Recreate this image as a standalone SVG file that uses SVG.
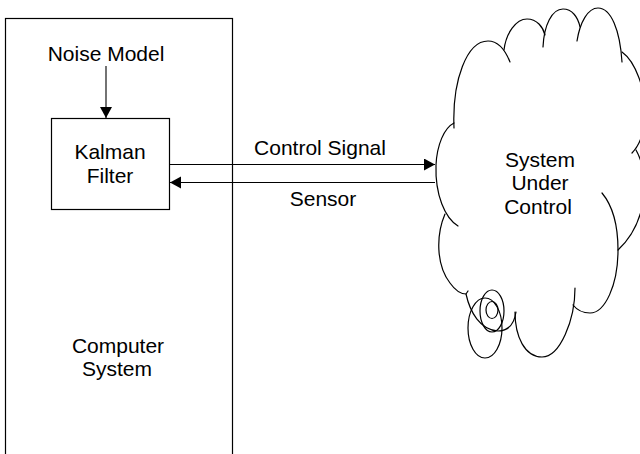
<svg xmlns="http://www.w3.org/2000/svg" width="640" height="454" viewBox="0 0 640 454">
<style>
.box{fill:#fff;stroke:#000;stroke-width:1.2}
.ln{fill:none;stroke:#000;stroke-width:1.1}
.cl{fill:none;stroke:#000;stroke-width:1.2;stroke-linecap:round}
text{font-family:"Liberation Sans",Arial,sans-serif;font-size:21px;fill:#000;text-anchor:middle}
</style>
<defs>
<marker id="ah" markerUnits="userSpaceOnUse" markerWidth="12" markerHeight="13" refX="11" refY="6" orient="auto">
<path d="M0,0 L11,6 L0,12 Z" fill="#000"/>
</marker>
</defs>
<rect width="640" height="454" fill="#fff"/>
<g id="computer-system">
<rect class="box" x="5.5" y="18.5" width="227" height="450"/>
<text x="118" y="353">Computer</text>
<text x="117" y="376">System</text>
</g>
<g id="noise-model">
<text x="106" y="61">Noise Model</text>
</g>
<g id="kalman-filter">
<rect class="box" x="51.5" y="118.5" width="118" height="91"/>
<text x="110" y="159">Kalman</text>
<text x="110" y="183">Filter</text>
</g>
<g id="system-under-control">
<path class="cl" d="M454,128 C452,80 467,41 488,41 C499,41 506,52 510,62"/>
<path class="cl" d="M504,50 C506,33 516,19 527,19 C537,19 543,27 545,35"/>
<path class="cl" d="M543,47 C544,25 552,9 563,9 C572,9 578,17 580,27"/>
<path class="cl" d="M577,41 C580,22 588,8 598,8 C611,8 620,30 622,62"/>
<path class="cl" d="M622,52 C636,62 645,90 645,110 C645,130 640,145 632,153"/>
<path class="cl" d="M636,150 C650,175 648,222 618,250"/>
<path class="cl" d="M602,193 C612,205 618,225 618,250 C618,285 605,313 590,313 C582,313 577,310 573,305"/>
<path class="cl" d="M575,288 C575,320 560,357 542,357 C525,357 515,337 515,312"/>
<path class="cl" d="M454,123 C444,128 437,145 436,165 C435,195 445,218 458,226"/>
<path class="cl" d="M445,214 C436,235 436,265 450,283 C455,290 460,294 466,294 L468,291"/>
<path class="cl" d="M466,294 C470,312 480,330 498,331 C508,331 514,325 516,312"/>
<ellipse class="cl" cx="485" cy="328" rx="17" ry="30"/>
<ellipse class="cl" cx="492" cy="311" rx="12" ry="21"/>
<ellipse class="cl" cx="492" cy="310" rx="6" ry="8.5"/>
<text x="540" y="167">System</text>
<text x="540" y="190">Under</text>
<text x="538" y="214">Control</text>
</g>
<g id="connectors">
<line class="ln" x1="106" y1="66" x2="106" y2="118" marker-end="url(#ah)"/>
<line class="ln" x1="169" y1="164.5" x2="435" y2="164.5" marker-end="url(#ah)"/>
<line class="ln" x1="435" y1="182.5" x2="170" y2="182.5" marker-end="url(#ah)"/>
<text x="320" y="155">Control Signal</text>
<text x="323" y="206">Sensor</text>
</g>
</svg>
